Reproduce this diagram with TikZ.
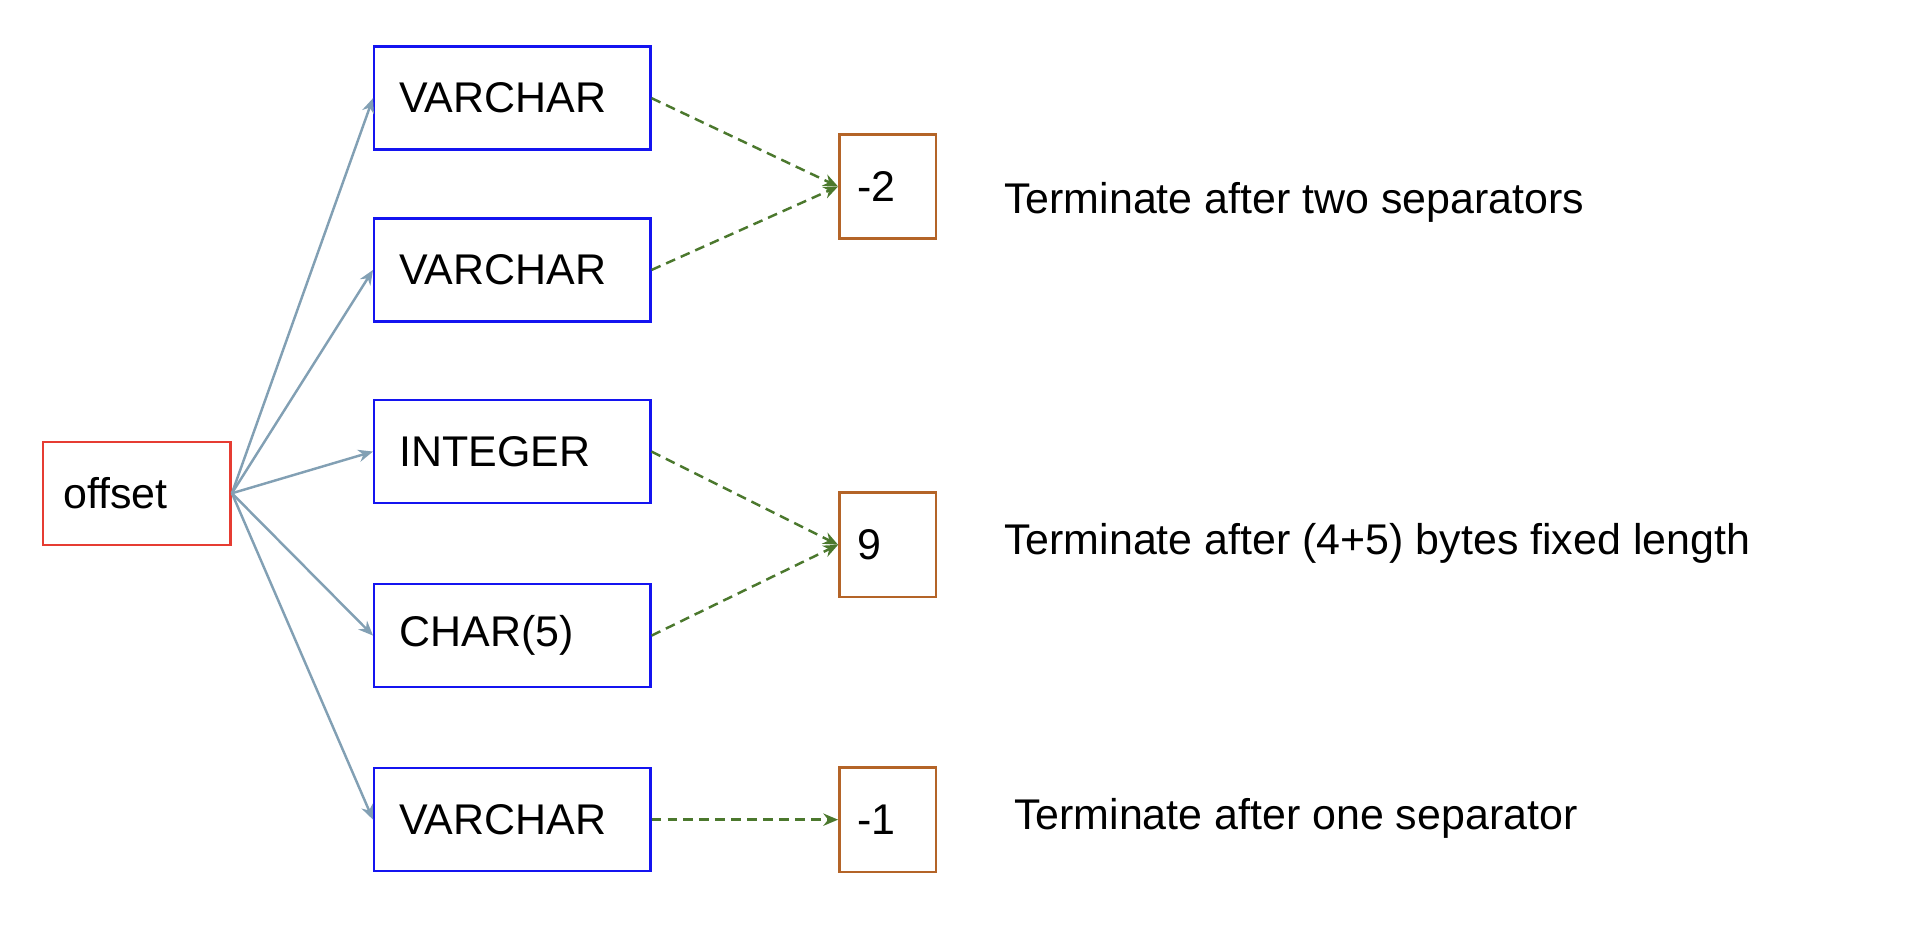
\documentclass[tikz,border=0pt]{standalone}
\usepackage{fontspec}
\setmainfont{Liberation Sans}
\usetikzlibrary{arrows.meta}
\definecolor{bblue}{RGB}{20,20,240}
\definecolor{rred}{RGB}{230,60,50}
\definecolor{brn}{RGB}{180,100,40}
\definecolor{gry}{RGB}{130,160,180}
\definecolor{grn}{RGB}{75,120,45}
\begin{document}
\begin{tikzpicture}[x=0.5pt,y=-0.5pt,
  box/.style={draw=bblue,line width=1pt,minimum width=112.5pt,minimum height=42pt,text width=92pt,inner xsep=10pt,align=left,font=\fontsize{17.5}{20}\selectfont},
  off/.style={draw=rred,line width=1pt,minimum width=76.5pt,minimum height=42pt,text width=60pt,inner xsep=8pt,align=left,font=\fontsize{17.5}{20}\selectfont},
  num/.style={draw=brn,line width=1pt,minimum width=39.5pt,minimum height=42.5pt,text width=25pt,inner xsep=7pt,align=left,font=\fontsize{17.5}{20}\selectfont},
  lab/.style={anchor=west,inner sep=0pt,font=\fontsize{17.5}{20}\selectfont},
  ga/.style={draw=gry,line width=1pt,-{Stealth[length=6pt,width=5pt]}},
  da/.style={draw=grn,line width=1pt,dashed,dash pattern=on 4pt off 2.5pt,-{Stealth[length=6pt,width=5pt]}}]
\useasboundingbox (0,0) rectangle (1568,758);
\node[off] (o) at (111.5,402) {offset};
\node[box] (v1) at (417.5,80) {VARCHAR};
\node[box] (v2) at (417.5,220) {VARCHAR};
\node[box] (i) at (417.5,368) {INTEGER};
\node[box] (c) at (417.5,518) {CHAR(5)};
\node[box] (v3) at (417.5,668) {VARCHAR};
\node[num] (m2) at (723.5,152) {-2};
\node[num] (n9) at (723.5,444) {9};
\node[num] (m1) at (723.5,668) {-1};
\node[lab] (t1) at (818,165) {Terminate after two separators};
\node[lab] (t2) at (818,443) {Terminate after (4+5) bytes fixed length};
\node[lab] (t3) at (826,667) {Terminate after one separator};
\foreach \n in {v1,v2,i,c,v3} \draw[ga] (o.east) -- (\n.west);
\draw[da] (v1.east) -- (m2.west);
\draw[da] (v2.east) -- (m2.west);
\draw[da] (i.east) -- (n9.west);
\draw[da] (c.east) -- (n9.west);
\draw[da] (v3.east) -- (m1.west);
\end{tikzpicture}
\end{document}
